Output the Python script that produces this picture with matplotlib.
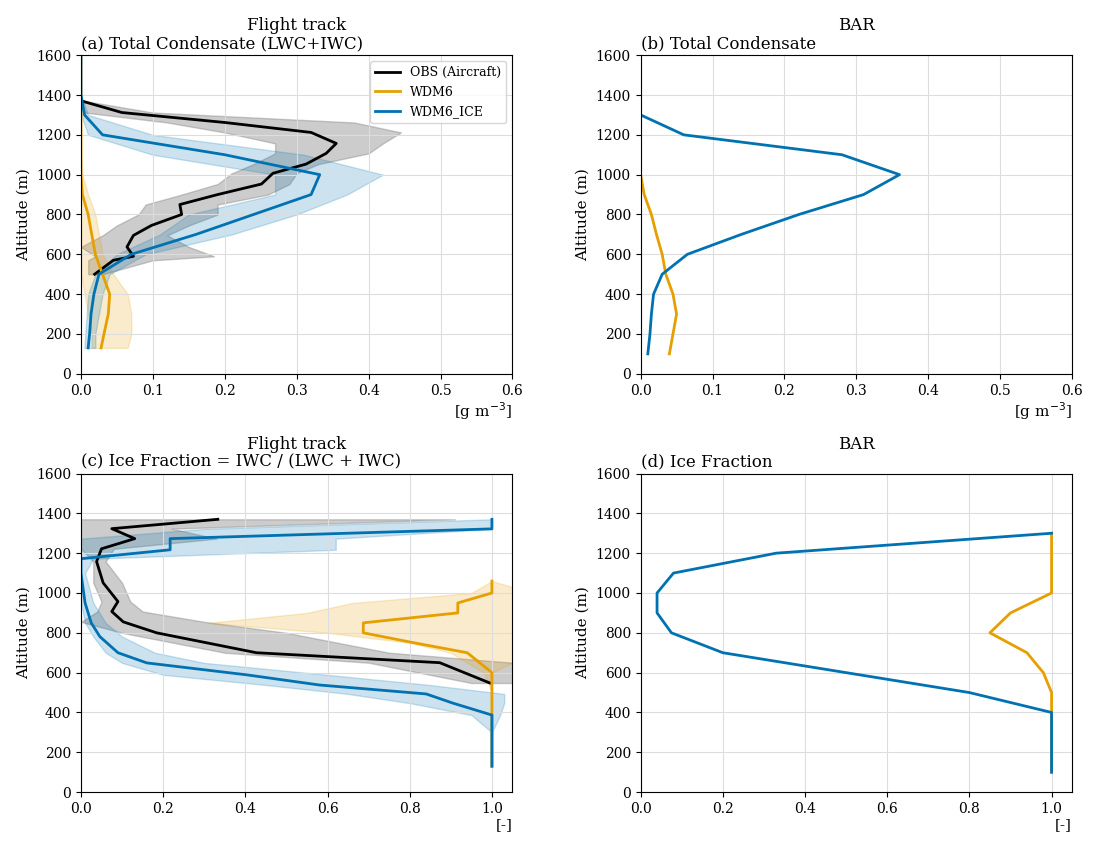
"""Vertical profiles of total condensate and ice fraction.

Compares aircraft observations against WDM6 and WDM6_ICE along the
flight track and at BAR.
"""

import matplotlib
import matplotlib.pyplot as plt
import numpy as np

# Use non-interactive backend for server/CLI use cases
matplotlib.use("Agg")

plt.rcParams["font.family"] = "DejaVu Serif"

# Styling constants
OBS_COLOR = "black"
WDM6_COLOR = "#E69F00"  # Orange
ICE_COLOR = "#0072B2"  # Blue

# Flight track: total condensate (g m-3)
OBS_TC = {
    "alt": np.array([1370, 1312, 1262, 1212, 1157, 1107, 1053, 1007, 953, 900,
                     850, 800, 745, 695, 637, 590, 570, 500]),
    "mean": np.array([0.001, 0.057, 0.20, 0.32, 0.355, 0.341, 0.313, 0.267, 0.251, 0.19,
                      0.1375, 0.14, 0.098, 0.073, 0.064, 0.073, 0.045, 0.019]),
    "lo": np.array([0.0, 0.005, 0.12, 0.20, 0.27, 0.27, 0.24, 0.21, 0.19, 0.14,
                    0.09, 0.08, 0.05, 0.03, 0.0, 0.02, 0.01, 0.01]),
    "hi": np.array([0.005, 0.10, 0.38, 0.445, 0.42, 0.40, 0.33, 0.30, 0.29, 0.26,
                    0.19, 0.19, 0.15, 0.12, 0.15, 0.185, 0.10, 0.03]),
}
MODEL_ALT = np.array([130, 200, 300, 400, 500, 600, 700, 800, 900, 1000,
                      1100, 1200, 1300, 1400, 1500, 1600])
WDM6_TC = {
    "mean": np.array([0.028, 0.032, 0.038, 0.04, 0.03, 0.02, 0.015, 0.01, 0.002, 0.0,
                      0.0, 0.0, 0.0, 0.0, 0.0, 0.0]),
    "lo": np.array([0.015, 0.015, 0.01, 0.005, 0.0, 0.0, 0.0, 0.0, 0.0, 0.0,
                    0.0, 0.0, 0.0, 0.0, 0.0, 0.0]),
    "hi": np.array([0.065, 0.07, 0.07, 0.065, 0.045, 0.03, 0.025, 0.02, 0.01, 0.002,
                    0.0, 0.0, 0.0, 0.0, 0.0, 0.0]),
}
ICE_TC = {
    "mean": np.array([0.01, 0.012, 0.014, 0.018, 0.025, 0.07, 0.16, 0.24, 0.32, 0.332,
                      0.2, 0.03, 0.005, 0.0, 0.0, 0.0]),
    "lo": np.array([0.005, 0.006, 0.008, 0.01, 0.02, 0.05, 0.11, 0.15, 0.27, 0.27,
                    0.10, 0.01, 0.0, 0.0, 0.0, 0.0]),
    "hi": np.array([0.02, 0.02, 0.025, 0.03, 0.04, 0.09, 0.21, 0.30, 0.37, 0.42,
                    0.31, 0.10, 0.01, 0.0, 0.0, 0.0]),
}

# Flight track: ice fraction (-)
OBS_IF = {
    "alt": np.array([1370, 1323, 1273, 1222, 1158, 1051, 957, 907, 855, 800, 700, 650, 548]),
    "mean": np.array([0.333, 0.075, 0.131, 0.05, 0.038, 0.054, 0.09, 0.075, 0.103,
                      0.184, 0.427, 0.873, 0.995]),
    "lo": np.array([0.0, 0.0, 0.0, 0.0, 0.03, 0.03, 0.05, 0.04, 0.0, 0.1, 0.35, 0.7, 0.95]),
    "hi": np.array([0.91, 0.22, 0.33, 0.08, 0.06, 0.1, 0.12, 0.15, 0.3, 0.5, 0.75,
                    1.05, 1.05]),
}
ICE_IF = {
    "alt": np.array([1370, 1322, 1273, 1217, 1172, 1100, 950, 850, 781, 700, 649, 589,
                     538, 493, 447, 387, 300, 200, 130]),
    "mean": np.array([1.0, 1.0, 0.217, 0.217, 0.0, 0.0, 0.01, 0.025, 0.046, 0.09, 0.16,
                      0.403, 0.58, 0.84, 0.905, 1.0, 1.0, 1.0, 1.0]),
    "lo": np.array([1.0, 0.3, 0.0, 0.0, 0.0, 0.0, 0.0, 0.01, 0.03, 0.06, 0.1, 0.2,
                    0.45, 0.65, 0.8, 0.95, 1.0, 1.0, 1.0]),
    "hi": np.array([1.0, 1.0, 0.62, 0.62, 0.03, 0.01, 0.03, 0.06, 0.1, 0.18, 0.3, 0.6,
                    0.85, 1.03, 1.03, 1.02, 1.0, 1.0, 1.0]),
}
WDM6_IF = {
    "alt": np.array([1060, 1000, 950, 900, 850, 800, 750, 700, 600, 500, 400, 300, 200, 130]),
    "mean": np.array([1.0, 1.0, 0.917, 0.917, 0.687, 0.687, 0.81, 0.94, 1.0, 1.0,
                      1.0, 1.0, 1.0, 1.0]),
    "lo": np.array([1.0, 0.95, 0.66, 0.55, 0.31, 0.6, 0.8, 0.9, 0.98, 1.0,
                    1.0, 1.0, 1.0, 1.0]),
    "hi": np.array([1.0, 1.1, 1.1, 1.1, 1.1, 1.1, 1.1, 1.1, 1.0, 1.0,
                    1.0, 1.0, 1.0, 1.0]),
}

# BAR profiles
BAR_ALT = np.array([100, 200, 300, 400, 500, 600, 700, 800, 900, 1000, 1100, 1200, 1300])
BAR_TC_WDM6 = np.array([0.04, 0.045, 0.05, 0.045, 0.035, 0.03, 0.022, 0.015, 0.005,
                        0.0, 0.0, 0.0, 0.0])
BAR_TC_ICE = np.array([0.01, 0.013, 0.015, 0.018, 0.03, 0.065, 0.14, 0.22, 0.31,
                       0.36, 0.28, 0.06, 0.0])
BAR_IF_WDM6 = np.array([1.0, 1.0, 1.0, 1.0, 1.0, 0.98, 0.94, 0.85, 0.9, 1.0, 1.0, 1.0, 1.0])
BAR_IF_ICE = np.array([1.0, 1.0, 1.0, 1.0, 0.8, 0.5, 0.2, 0.075, 0.04, 0.04, 0.08, 0.33, 1.0])


def style_axis(ax, xmax, xticks, xunit, top, left):
    """Apply common limits, grid and labels to a profile panel."""
    ax.set_xlim(0, xmax)
    ax.set_ylim(0, 1600)
    ax.set_xticks(xticks)
    ax.set_yticks(np.arange(0, 1601, 200))
    ax.grid(True, color="#dddddd", lw=0.8)
    ax.set_ylabel("Altitude (m)", fontsize=11)
    ax.set_xlabel(xunit, fontsize=11, loc="right", labelpad=2)
    if top:
        ax.set_title(top, fontsize=12, pad=18)
    ax.text(0.0, 1.01, left, transform=ax.transAxes, fontsize=12, va="bottom")


fig, axes = plt.subplots(2, 2, figsize=(10.94, 8.49), dpi=100)
plt.subplots_adjust(left=0.074, right=0.98, top=0.935, bottom=0.067,
                    wspace=0.297, hspace=0.313)

# (a) Flight track total condensate
ax = axes[0, 0]
ax.fill_betweenx(OBS_TC["alt"], OBS_TC["lo"], OBS_TC["hi"], color="gray", alpha=0.4)
ax.fill_betweenx(MODEL_ALT, WDM6_TC["lo"], WDM6_TC["hi"], color=WDM6_COLOR, alpha=0.2)
ax.fill_betweenx(MODEL_ALT, ICE_TC["lo"], ICE_TC["hi"], color=ICE_COLOR, alpha=0.2)
ax.plot(OBS_TC["mean"], OBS_TC["alt"], color=OBS_COLOR, lw=2, label="OBS (Aircraft)")
ax.plot(WDM6_TC["mean"], MODEL_ALT, color=WDM6_COLOR, lw=2, label="WDM6")
ax.plot(ICE_TC["mean"], MODEL_ALT, color=ICE_COLOR, lw=2, label="WDM6_ICE")
ax.legend(loc="upper right", fontsize=9)
style_axis(ax, 0.6, np.arange(0, 0.61, 0.1), "[g m$^{-3}$]", "Flight track",
           "(a) Total Condensate (LWC+IWC)")

# (b) BAR total condensate
ax = axes[0, 1]
ax.plot(BAR_TC_WDM6, BAR_ALT, color=WDM6_COLOR, lw=2)
ax.plot(np.append(BAR_TC_ICE, 0.0), np.append(BAR_ALT, 1600), color=ICE_COLOR, lw=2)
style_axis(ax, 0.6, np.arange(0, 0.61, 0.1), "[g m$^{-3}$]", "BAR", "(b) Total Condensate")

# (c) Flight track ice fraction
ax = axes[1, 0]
ax.fill_betweenx(OBS_IF["alt"], OBS_IF["lo"], OBS_IF["hi"], color="gray", alpha=0.4)
ax.fill_betweenx(WDM6_IF["alt"], WDM6_IF["lo"], WDM6_IF["hi"], color=WDM6_COLOR, alpha=0.2)
ax.fill_betweenx(ICE_IF["alt"], ICE_IF["lo"], ICE_IF["hi"], color=ICE_COLOR, alpha=0.2)
ax.plot(OBS_IF["mean"], OBS_IF["alt"], color=OBS_COLOR, lw=2)
ax.plot(WDM6_IF["mean"], WDM6_IF["alt"], color=WDM6_COLOR, lw=2)
ax.plot(ICE_IF["mean"], ICE_IF["alt"], color=ICE_COLOR, lw=2)
style_axis(ax, 1.05, np.arange(0, 1.01, 0.2), "[-]", "Flight track",
           "(c) Ice Fraction = IWC / (LWC + IWC)")

# (d) BAR ice fraction
ax = axes[1, 1]
ax.plot(BAR_IF_WDM6, BAR_ALT, color=WDM6_COLOR, lw=2)
ax.plot(BAR_IF_ICE, BAR_ALT, color=ICE_COLOR, lw=2)
style_axis(ax, 1.05, np.arange(0, 1.01, 0.2), "[-]", "BAR", "(d) Ice Fraction")

fig.savefig("out.png", dpi=100)
plt.close(fig)
